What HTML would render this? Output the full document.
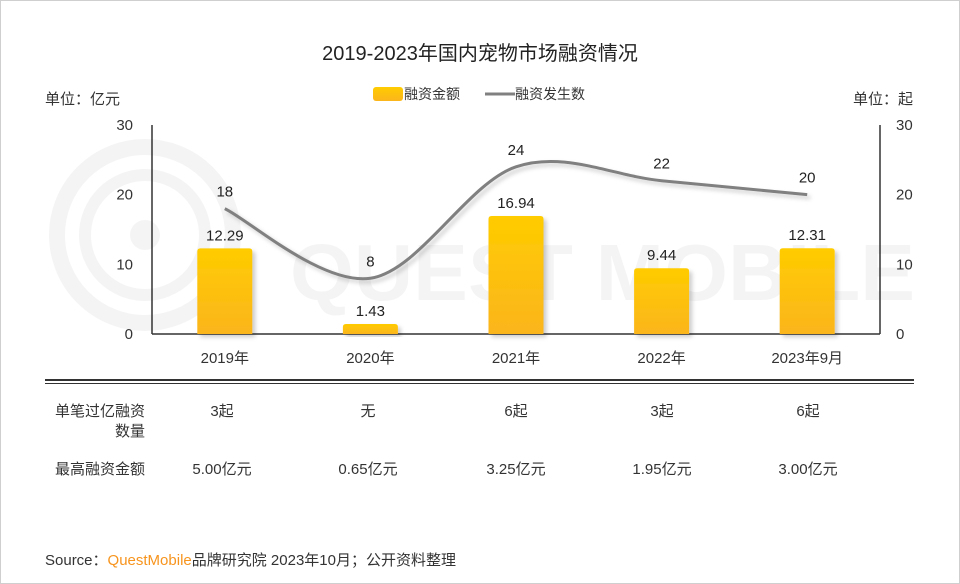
<!DOCTYPE html>
<html><head><meta charset="utf-8">
<style>
html,body{margin:0;padding:0;background:#fff;}
body{width:960px;height:584px;overflow:hidden;font-family:"Liberation Sans","Noto Sans CJK SC",sans-serif;}
#frame{position:absolute;left:0;top:0;width:958px;height:582px;border:1px solid #cfcfcf;}
svg{position:absolute;left:0;top:0;}
</style></head><body>
<div id="frame"></div>
<svg id="chart" width="960" height="584" font-family="Liberation Sans, Noto Sans CJK SC, sans-serif">
<defs>
<linearGradient id="barg" x1="0" y1="0" x2="0" y2="1"><stop offset="0" stop-color="#ffcc00"/><stop offset="1" stop-color="#fbb51c"/></linearGradient>
<filter id="sh" x="-20%" y="-20%" width="150%" height="150%"><feDropShadow dx="3" dy="3" stdDev="2" stdDeviation="2" flood-color="#000" flood-opacity="0.2"/></filter>
</defs>
<g opacity="0.04" fill="none" stroke="#000">
<circle cx="145" cy="235" r="88" stroke-width="16"/>
<circle cx="145" cy="235" r="60" stroke-width="12"/>
<circle cx="145" cy="235" r="15" fill="#000" stroke="none"/>
<text x="290" y="300" font-size="80" font-weight="bold" fill="#000" stroke="none" textLength="625" lengthAdjust="spacingAndGlyphs">QUEST MOBILE</text>
</g>
<text x="480" y="60" text-anchor="middle" font-size="20" fill="#222">2019-2023年国内宠物市场融资情况</text>
<text x="45" y="104" font-size="15" fill="#333">单位：亿元</text>
<text x="913" y="104" text-anchor="end" font-size="15" fill="#333">单位：起</text>
<g>
<rect x="373" y="87" width="30" height="14" rx="3" fill="url(#barg)"/>
<text x="404" y="99" font-size="14" fill="#333">融资金额</text>
<line x1="485" y1="94" x2="515" y2="94" stroke="#808080" stroke-width="3"/>
<text x="515" y="99" font-size="14" fill="#333">融资发生数</text>
</g>
<g id="axes"></g>
<g id="bars"></g>
<g id="line"></g>
<line x1="45" y1="380" x2="914" y2="380" stroke="#333" stroke-width="2"/>
<line x1="45" y1="383.5" x2="914" y2="383.5" stroke="#333" stroke-width="1"/>
<g id="table" font-size="15" fill="#333"></g>
<text x="45" y="565" font-size="15" fill="#333">Source：<tspan fill="#f7941d">QuestMobile</tspan>品牌研究院 2023年10月；公开资料整理</text>
</svg>
<script>
const categories=["2019年","2020年","2021年","2022年","2023年9月"];
const amounts=[12.29,1.43,16.94,9.44,12.31];
const amountLabels=["12.29","1.43","16.94","9.44","12.31"];
const counts=[18,8,24,22,20];
const leftTicks=[0,10,20,30];
const rightTicks=[0,10,20,30];
const row1=["3起","无","6起","3起","6起"];
const row2=["5.00亿元","0.65亿元","3.25亿元","1.95亿元","3.00亿元"];

const NS="http://www.w3.org/2000/svg";
const X0=152,X1=880,Y0=334,Y1=125;
const band=(X1-X0)/categories.length;
const xc=i=>X0+band*(i+0.5);
const yL=v=>Y0-(v/30)*(Y0-Y1);
const yR=v=>Y0-(v/30)*(Y0-Y1);
function mk(tag,attrs,parent,text){const e=document.createElementNS(NS,tag);for(const k in attrs)e.setAttribute(k,attrs[k]);if(text!==undefined)e.textContent=text;parent.appendChild(e);return e;}
const axes=document.getElementById('axes');
let e;
e=mk('line',{x1:X0,y1:Y1,x2:X0,y2:Y0,stroke:'#333','stroke-width':1.5},axes);


e=mk('line',{x1:X1,y1:Y1,x2:X1,y2:Y0,stroke:'#333','stroke-width':1.5},axes);


e=mk('line',{x1:X0,y1:Y0,x2:X1,y2:Y0,stroke:'#333','stroke-width':1.5},axes);


leftTicks.forEach(t=>{const el=mk('text',{x:133,y:yL(t)+5,'text-anchor':'end','font-size':15,fill:'#333'},axes,String(t));

});
rightTicks.forEach(t=>{const el=mk('text',{x:896,y:yR(t)+5,'text-anchor':'start','font-size':15,fill:'#333'},axes,String(t));

});
categories.forEach((c,i)=>{const el=mk('text',{x:xc(i),y:363,'text-anchor':'middle','font-size':15,fill:'#333'},axes,c);

});
const bars=document.getElementById('bars');
const BW=55;
amounts.forEach((v,i)=>{const y=yL(v);
const r=mk('path',{d:`M${xc(i)-BW/2},${Y0} V${y+3} Q${xc(i)-BW/2},${y} ${xc(i)-BW/2+3},${y} H${xc(i)+BW/2-3} Q${xc(i)+BW/2},${y} ${xc(i)+BW/2},${y+3} V${Y0} Z`,fill:'url(#barg)',filter:'url(#sh)'},bars);


const t=mk('text',{x:xc(i),y:y-8,'text-anchor':'middle','font-size':15,fill:'#222'},bars,amountLabels[i]);

});
const lg=document.getElementById('line');
const pts=counts.map((v,i)=>[xc(i),yR(v)]);
let d=`M${pts[0][0]},${pts[0][1]}`;
for(let i=0;i<pts.length-1;i++){const p0=pts[Math.max(0,i-1)],p1=pts[i],p2=pts[i+1],p3=pts[Math.min(pts.length-1,i+2)];
const c1=[p1[0]+(p2[0]-p0[0])/6,p1[1]+(p2[1]-p0[1])/6],c2=[p2[0]-(p3[0]-p1[0])/6,p2[1]-(p3[1]-p1[1])/6];
d+=` C${c1[0]},${c1[1]} ${c2[0]},${c2[1]} ${p2[0]},${p2[1]}`;}
e=mk('path',{d:d,fill:'none',stroke:'#808080','stroke-width':3,filter:'url(#sh)'},lg);


counts.forEach((v,i)=>{const t=mk('text',{x:pts[i][0],y:pts[i][1]-12,'text-anchor':'middle','font-size':15,fill:'#222'},lg,String(v));

});
const tb=document.getElementById('table');
e=mk('text',{x:145,y:416,'text-anchor':'end'},tb,'单笔过亿融资');


e=mk('text',{x:145,y:436,'text-anchor':'end'},tb,'数量');


e=mk('text',{x:145,y:474,'text-anchor':'end'},tb,'最高融资金额');


const colX=[222,368,516,662,808];
row1.forEach((s,i)=>{const t=mk('text',{x:colX[i],y:416,'text-anchor':'middle'},tb,s);

});
row2.forEach((s,i)=>{const t=mk('text',{x:colX[i],y:474,'text-anchor':'middle'},tb,s);

});
</script>
</body></html>
